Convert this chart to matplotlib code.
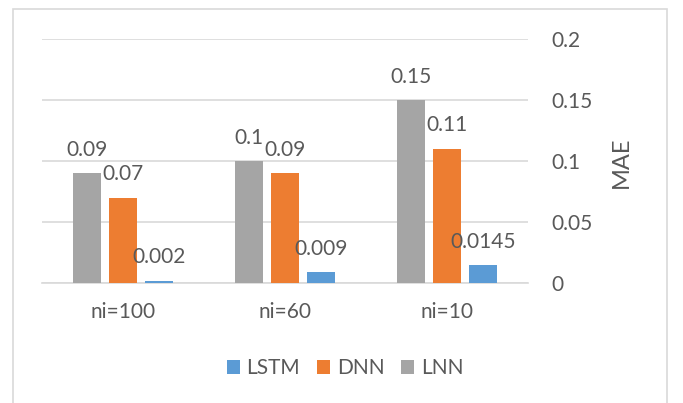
import matplotlib
matplotlib.use("Agg")
import matplotlib.pyplot as plt
from matplotlib.patches import Rectangle
import numpy as np

plt.rcParams['font.family'] = ['Lato', 'DejaVu Sans']

categories = ["ni=100", "ni=60", "ni=10"]
series_names = ["LNN", "DNN", "LSTM"]
lnn = [0.09, 0.1, 0.15]
dnn = [0.07, 0.09, 0.11]
lstm = [0.002, 0.009, 0.0145]
value_labels = {
    "LNN": ["0.09", "0.1", "0.15"],
    "DNN": ["0.07", "0.09", "0.11"],
    "LSTM": ["0.002", "0.009", "0.0145"],
}
y_ticks = [0, 0.05, 0.1, 0.15, 0.2]
y_tick_labels = ["0", "0.05", "0.1", "0.15", "0.2"]
legend_order = ["LSTM", "DNN", "LNN"]

colors = {"LNN": "#a5a5a5", "DNN": "#ed7d31", "LSTM": "#5b9bd5"}
text_color = "#595959"
grid_color = "#d9d9d9"
fs = 15

W, H = 683, 403
fig = plt.figure(figsize=(W / 100, H / 100), dpi=100)

# chart area border
fig.patches.append(Rectangle((12.5 / W, -0.05), (666.5 - 12.5) / W, 1.05 - 9.5 / H,
                             transform=fig.transFigure, fill=False,
                             edgecolor=grid_color, linewidth=1.2))

left, right, top, bottom = 42, 528, 39, 283
ax = fig.add_axes([left / W, (H - bottom) / H, (right - left) / W, (bottom - top) / H])

values = {"LNN": lnn, "DNN": dnn, "LSTM": lstm}
x = np.arange(len(categories))
bar_w = 28 / 162
step = 36 / 162
bars = {}
for i, name in enumerate(series_names):
    offs = (i - 1) * step
    bars[name] = ax.bar(x + offs, values[name], width=bar_w, color=colors[name],
                        label=name, zorder=3)
    for xi, v, lab in zip(x + offs, values[name], value_labels[name]):
        ax.annotate(lab, (xi, v), xytext=(0, 12.5), textcoords="offset points",
                    ha="center", va="baseline", fontsize=fs, color=text_color,
                    zorder=4)

ax.set_xlim(-0.5, len(categories) - 0.5)
ax.set_ylim(0, 0.2)
ax.set_yticks(y_ticks)
ax.set_yticklabels(y_tick_labels)
ax.yaxis.tick_right()
ax.yaxis.set_label_position("right")
ax.tick_params(axis="y", length=0, pad=16.5, labelsize=fs, labelcolor=text_color)
ax.set_xticks(x)
ax.set_xticklabels(categories)
ax.tick_params(axis="x", length=0, pad=13.5, labelsize=fs, labelcolor=text_color)
ax.grid(axis="y", color=grid_color, linewidth=1.2, zorder=0)
for s in ["top", "left", "right"]:
    ax.spines[s].set_visible(False)
ax.spines["bottom"].set_color(grid_color)
ax.spines["bottom"].set_linewidth(1.2)

fig.text(621 / W, (H - 162) / H, "MAE", rotation=90, ha="center", va="center",
         fontsize=17, color=text_color)

handles = [bars[n] for n in legend_order]
leg = fig.legend(handles, legend_order, loc="center", bbox_to_anchor=(345 / W, (H - 368) / H),
                 ncol=3, frameon=False, fontsize=fs, labelcolor=text_color,
                 handlelength=0.65, handleheight=0.65, handletextpad=0.3,
                 columnspacing=0.8)

fig.savefig("out.png", dpi=100)
